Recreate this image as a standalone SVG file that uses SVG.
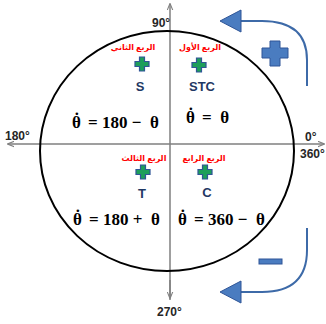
<svg xmlns="http://www.w3.org/2000/svg" width="326" height="324" viewBox="0 0 326 324">
<style>
.ax{stroke:#7f7f7f;stroke-width:1.5;fill:none}
.deg{font-family:"Liberation Sans",Arial,sans-serif;font-size:12px;font-weight:bold;fill:#262626}
.ar{font-family:"Noto Sans","DejaVu Sans",sans-serif;font-size:8px;font-weight:bold;fill:#ff0000}
.lbl{font-family:"Liberation Sans",Arial,sans-serif;font-size:13px;font-weight:bold;fill:#1f3864}
.eq{font-family:"Liberation Serif","DejaVu Serif",serif;font-size:17px;font-weight:bold;fill:#000;white-space:pre}
.pl{fill:#1e9e5a;stroke:#2f5597;stroke-width:1.2}
.blue{fill:#4a7cc0;stroke:#2f5597;stroke-width:1}
.cur{fill:none;stroke:#3d6aa8;stroke-width:2}
</style>
<defs>
<marker id="ah" viewBox="0 0 10 10" refX="9" refY="5" markerWidth="7" markerHeight="7" orient="auto-start-reverse" markerUnits="userSpaceOnUse">
<path d="M0,1 L10,5 L0,9" fill="none" stroke="#7f7f7f" stroke-width="1.5"/>
</marker>
<path id="plus" d="M-2.5,-7 H2.5 V-2.5 H7 V2.5 H2.5 V7 H-2.5 V2.5 H-7 V-2.5 H-2.5 Z"/>
</defs>
<g id="connectors">
<line class="ax" x1="170" y1="300" x2="170" y2="4" marker-end="url(#ah)"/>
<line class="ax" x1="170" y1="280" x2="170" y2="298" marker-end="url(#ah)"/>
<line class="ax" x1="8" y1="144" x2="324" y2="144" marker-start="url(#ah)" marker-end="url(#ah)"/>
<path class="cur" d="M307,86 V60 Q307,21 262,21 H238"/>
<path class="cur" d="M307,228 V250 Q307,292 262,292 H238"/>
</g>
<g id="circle"><ellipse cx="167" cy="151" rx="127" ry="120" fill="none" stroke="#000" stroke-width="2"/></g>
<g id="arrow-top"><path class="blue" d="M220,21 L241,10 V32 Z"/></g>
<g id="arrow-bottom"><path class="blue" d="M220,292 L241,281 V303 Z"/></g>
<g id="plus-big"><path class="blue" d="M270,41 H280 V48 H288 V58 H280 V66 H270 V58 H262 V48 H270 Z"/></g>
<g id="minus-big"><rect class="blue" x="259" y="259" width="23" height="5"/></g>
<g id="labels-deg">
<text class="deg" x="152" y="27">90°</text>
<text class="deg" x="5" y="140">180°</text>
<text class="deg" x="305" y="141">0°</text>
<text class="deg" x="300" y="158">360°</text>
<text class="deg" x="157" y="316">270°</text>
</g>
<g id="q2">
<text class="ar" x="133" y="50" text-anchor="middle" direction="rtl">الربع الثاني</text>
<use href="#plus" x="142" y="64" class="pl"/>
<text class="lbl" x="140" y="91" text-anchor="middle">S</text>
<text class="eq" x="72" y="128">θ<tspan dx="-7" dy="-4">˙</tspan><tspan dy="4">  = 180 −  θ</tspan></text>
</g>
<g id="q1">
<text class="ar" x="200" y="50" text-anchor="middle" direction="rtl">الربع الأول</text>
<use href="#plus" x="199" y="65" class="pl"/>
<text class="lbl" x="202" y="91" text-anchor="middle">STC</text>
<text class="eq" x="186" y="123">θ<tspan dx="-7" dy="-4">˙</tspan><tspan dy="4">  =  θ</tspan></text>
</g>
<g id="q3">
<text class="ar" x="144" y="161" text-anchor="middle" direction="rtl">الربع الثالث</text>
<use href="#plus" x="143" y="172" class="pl"/>
<text class="lbl" x="142" y="198" text-anchor="middle">T</text>
<text class="eq" x="73" y="225">θ<tspan dx="-7" dy="-4">˙</tspan><tspan dy="4">  = 180 +  θ</tspan></text>
</g>
<g id="q4">
<text class="ar" x="204" y="161" text-anchor="middle" direction="rtl">الربع الرابع</text>
<use href="#plus" x="205" y="172" class="pl"/>
<text class="lbl" x="207" y="197" text-anchor="middle">C</text>
<text class="eq" x="178" y="225">θ<tspan dx="-7" dy="-4">˙</tspan><tspan dy="4">  = 360 −  θ</tspan></text>
</g>
</svg>
